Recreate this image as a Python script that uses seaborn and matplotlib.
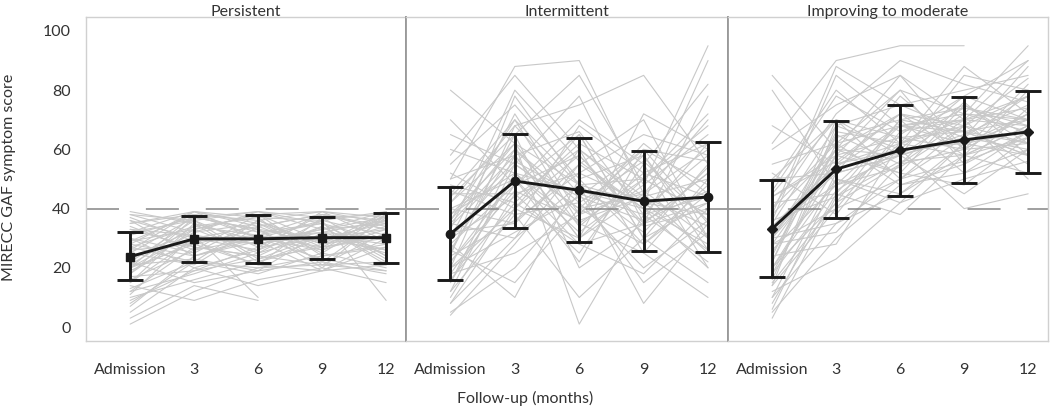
import numpy as np
import pandas as pd
import matplotlib
matplotlib.use("Agg")
import matplotlib.pyplot as plt
import seaborn as sns

# --- data ---
groups = ["Persistent", "Intermittent", "Improving to moderate"]
visits = ["Admission", "3", "6", "9", "12"]
nan = np.nan

# group means and +/- 1 SD limits per visit
mean_persistent = [23.8, 29.8, 29.8, 30.2, 30.2]
lo_persistent = [15.8, 22.0, 21.8, 23.0, 21.8]
hi_persistent = [32.0, 37.6, 38.0, 37.2, 38.5]

mean_intermittent = [31.5, 49.3, 46.2, 42.5, 43.9]
lo_intermittent = [15.8, 33.3, 28.6, 25.7, 25.4]
hi_intermittent = [47.2, 65.3, 63.8, 59.3, 62.4]

mean_improving = [33.2, 53.3, 59.7, 63.2, 65.9]
lo_improving = [16.8, 37.0, 44.4, 48.6, 52.0]
hi_improving = [49.5, 69.7, 75.0, 77.7, 79.8]

# individual trajectories (estimated), one row per patient
traj_persistent = [
    [24, 30, 28, 33, 35], [15, 35, 22, 30, 26], [30, 25, 36, 28, 39],
    [8, 22, 18, 25, 20], [35, 38, 30, 36, 31], [20, 28, 33, 22, 37],
    [12, 18, 25, 31, 28], [38, 32, 39, 35, 24], [22, 36, 27, 38, 33],
    [5, 20, 14, 19, 21], [28, 24, 31, 27, 30], [18, 33, 38, 29, 36],
    [33, 27, 24, 34, 22], [26, 39, 35, 25, 38], [10, 16, 22, 28, 34],
    [36, 30, 26, 39, 29], [16, 26, 30, 23, 19], [1, 12, 20, 24, 27],
    [31, 37, 33, 30, 35], [21, 23, 19, 32, 26], [27, 34, 37, 21, 32],
    [14, 9, 16, 20, 15], [39, 35, 29, 33, 37], [19, 29, 21, 37, 24],
    [25, 21, 34, 26, 39], [11, 31, 10, nan, nan], [29, 38, 32, 35, 23],
    [17, 19, 27, 30, 33], [34, 26, 38, 24, 28], [23, 33, 25, 36, 9],
    [7, 24, 29, 19, 30], [32, 36, 23, 31, 25], [13, 22, 36, 27, 38],
    [37, 29, 31, 38, 34], [22, 15, 19, 22, 18], [28, 39, 30, 32, 36],
    [3, 14, 9, nan, nan], [20, 32, 35, 28, 31], [30, 20, 26, 34, 21],
    [18, 37, 33, 20, 38], [26, 28, 21, 19, 27], [36, 24, 30, 26, 33],
    [20, 38, 36, 39, 37], [32, 39, 37, 36, 39], [38, 36, 39, 37, 38],
    [15, 30, 34, 38, 36], [25, 37, 39, 33, 39], [29, 33, 38, 39, 35],
    [12, 27, 24, 21, 19], [33, 31, 28, 32, 30], [9, 19, 23, 27, 31],
    [27, 22, 20, 21, 22], [21, 34, 31, 35, 29], [35, 39, 34, 38, 33],
]
traj_intermittent = [
    [30, 55, 40, 60, 35], [45, 70, 35, 50, 72], [20, 40, 65, 30, 55],
    [80, 62, 48, 42, 38], [15, 58, 30, 45, 25], [35, 30, 60, 25, 50],
    [10, 45, 25, 55, 20], [50, 88, 90, 45, 60], [25, 65, 20, 35, 42],
    [40, 35, 55, 70, 30], [5, 20, 45, 38, 62], [55, 75, 50, 28, 48],
    [28, 48, 70, 55, 82], [38, 60, 42, 20, 36], [18, 25, 38, 62, 45],
    [60, 52, 32, 48, 95], [33, 80, 56, 40, 28], [12, 38, 10, 30, 15],
    [42, 68, 75, 85, 55], [22, 50, 28, 18, 40], [48, 42, 62, 50, 68],
    [8, 30, 48, 8, 35], [30, 72, 38, 58, 26], [65, 55, 78, 35, 52],
    [26, 15, 40, 45, 70], [36, 62, 1, 38, 22], [45, 45, 52, 65, 58],
    [15, 52, 35, 25, 10], [58, 85, 60, 42, 90], [32, 35, 68, 52, 44],
    [20, 68, 45, 15, 32], [40, 50, 22, 60, 48], [52, 40, 58, 35, 78],
    [24, 78, 48, 50, 38], [4, 28, 55, 40, 20], [35, 58, 30, 72, 60],
    [70, 48, 65, 30, 42], [28, 10, 50, 58, 30], [44, 65, 85, 48, 65],
    [16, 42, 28, 35, 52], [34, 56, 44, 36, 46], [22, 46, 36, 44, 34],
    [38, 52, 46, 40, 58], [26, 60, 38, 46, 30], [18, 48, 58, 34, 40],
    [46, 38, 42, 56, 36], [30, 44, 60, 44, 50], [12, 55, 40, 28, 45],
    [42, 62, 34, 52, 62], [24, 36, 52, 42, 26], [36, 70, 48, 32, 54],
    [8, 40, 30, 50, 38], [50, 58, 66, 38, 44], [20, 32, 44, 60, 56],
]
traj_improving = [
    [30, 55, 62, 70, 68], [45, 70, 58, 65, 75], [15, 42, 55, 60, 62],
    [80, 48, 68, 72, 70], [25, 60, 72, 58, 80], [10, 35, 50, 68, 55],
    [38, 88, 75, 80, 85], [20, 50, 45, 62, 72], [55, 62, 80, 55, 66],
    [5, 30, 48, 52, 60], [35, 68, 60, 78, 90], [42, 45, 70, 66, 58],
    [18, 58, 52, 48, 64], [60, 75, 85, 70, 78], [28, 40, 66, 75, 62],
    [12, 23, 42, 50, 56], [48, 80, 62, 88, 72], [32, 52, 78, 60, 82],
    [22, 65, 55, 70, 50], [68, 55, 72, 64, 88], [8, 45, 38, 58, 68],
    [40, 72, 90, 82, 76], [26, 48, 58, 45, 60], [52, 38, 65, 78, 70],
    [16, 62, 48, 55, 74], [36, 85, 68, 62, 58], [85, 60, 52, 75, 65],
    [24, 28, 62, 68, 84], [44, 58, 80, 72, 95], [30, 35, 45, 58, 52],
    [14, 68, 75, 66, 62], [50, 52, 58, 85, 80], [20, 42, 70, 52, 66],
    [62, 90, 95, 95, nan], [34, 55, 60, 40, 45], [6, 50, 42, 62, 70],
    [46, 78, 66, 70, 90], [28, 32, 55, 76, 58], [38, 60, 85, 60, 72],
    [22, 70, 50, 64, 78], [3, 44, 56, 58, 64], [30, 64, 70, 74, 68],
    [28, 58, 64, 66, 70], [18, 46, 60, 62, 66], [40, 62, 68, 70, 74],
    [10, 52, 58, 64, 60], [34, 48, 54, 68, 62], [24, 66, 62, 58, 68],
    [44, 56, 72, 68, 78], [14, 40, 50, 56, 64], [30, 60, 58, 72, 66],
    [50, 70, 64, 60, 72], [20, 54, 68, 66, 58], [36, 44, 62, 74, 70],
]

traj = {"Persistent": traj_persistent, "Intermittent": traj_intermittent,
        "Improving to moderate": traj_improving}
summary = {
    "Persistent": (mean_persistent, lo_persistent, hi_persistent, "s", 6),
    "Intermittent": (mean_intermittent, lo_intermittent, hi_intermittent, "o", 6),
    "Improving to moderate": (mean_improving, lo_improving, hi_improving, "D", 5.5),
}

rows = []
for g in groups:
    for pid, vals in enumerate(traj[g]):
        for k, v in enumerate(vals):
            rows.append({"group": g, "id": pid, "visit": k, "score": v})
df = pd.DataFrame(rows)

sns.set_style("white")
plt.rcParams["font.family"] = ["Lato", "DejaVu Sans"]
plt.rcParams["font.size"] = 11.5

g = sns.FacetGrid(df, col="group", col_order=groups, sharey=True, sharex=True,
                  height=4.09, aspect=0.85, despine=False)
g.map_dataframe(sns.lineplot, x="visit", y="score", units="id", estimator=None,
                color="#c8c8c8", linewidth=0.8, zorder=1)

fig = g.figure
fig.set_size_inches(10.5, 4.09)
W, H = 1050, 409
left_px = [86, 406, 728]
right_px = [406, 728, 1048]
top_px, bot_px = 17, 341

x = np.arange(len(visits))
for i, (ax, name) in enumerate(zip(g.axes.flat, groups)):
    ax.set_position([left_px[i] / W, (H - bot_px) / H,
                     (right_px[i] - left_px[i]) / W, (bot_px - top_px) / H])
    m, lo, hi, mk, ms = summary[name]
    m = np.array(m); lo = np.array(lo); hi = np.array(hi)
    ax.axhline(40, color="#858585", lw=1.1, dashes=(21.6, 17.6), zorder=2)
    ax.errorbar(x, m, yerr=[m - lo, hi - m], color="#1a1a1a", lw=2.1,
                elinewidth=2.1, capsize=9.5, capthick=2.1, marker=mk,
                markersize=ms, zorder=4)
    ax.set_xlim(-0.69, 4.31)
    ax.set_ylim(-4.7, 104.7)
    ax.set_xticks(x)
    ax.set_xticklabels(visits)
    ax.set_title(name, fontsize=11.5, color="#333333", pad=1)
    ax.set_xlabel("")
    ax.set_ylabel("")
    ax.tick_params(axis="x", length=7, width=0.8, color="#aaaaaa", pad=9,
                   labelcolor="#333333", labelsize=11.5)
    ax.tick_params(axis="y", length=6, width=0.8, color="#aaaaaa", pad=5,
                   labelcolor="#333333", labelsize=11.5)
    for s in ax.spines.values():
        s.set_color("#d0d0d0")
        s.set_linewidth(1.0)
    if i > 0:
        ax.spines["left"].set_color("#999999")
        ax.spines["left"].set_linewidth(1.3)
        ax.tick_params(axis="y", left=False, labelleft=False)
    if i < 2:
        ax.spines["right"].set_color("#999999")
        ax.spines["right"].set_linewidth(1.3)

g.axes.flat[0].set_yticks([0, 20, 40, 60, 80, 100])
fig.text(9 / W, 1 - 177 / H, "MIRECC GAF symptom score", rotation=90,
         ha="center", va="center", fontsize=11.5, color="#333333")
fig.text(525 / W, 1 - 398 / H, "Follow-up (months)", ha="center", va="center",
         fontsize=11.5, color="#333333")

fig.savefig("out.png", dpi=100)
